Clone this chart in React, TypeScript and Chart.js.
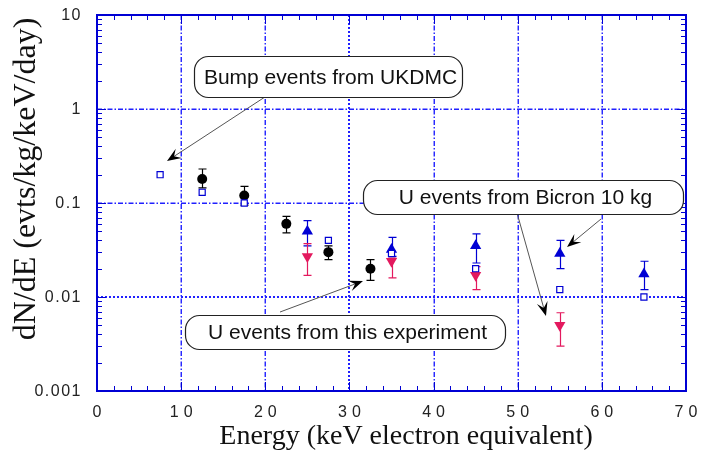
import React, { useEffect, useRef } from 'react';
import { Chart, registerables } from 'chart.js';

Chart.register(...registerables);

const W = 706;
const H = 458;

// ---- axis definitions ----
const xMin = 0;
const xMax = 70;
const xTickValues = [0, 10, 20, 30, 40, 50, 60, 70];
const xTickLabels = ['0', '10', '20', '30', '40', '50', '60', '70'];
const yMin = 0.001;
const yMax = 10;
const yTickValues = [0.001, 0.01, 0.1, 1, 10];
const yTickLabels = ['0.001', '0.01', '0.1', '1', '10'];
const xGrid = [10, 20, 30, 40, 50, 60];
const yGrid = [1, 0.1, 0.01];
const xTitle = 'Energy (keV electron equivalent)';
const yTitle = 'dN/dE (evts/kg/keV/day)';

// ---- data ----
// open squares: bump events (UKDMC)
const bumpX = [7.5, 12.5, 17.5, 27.5, 35, 45, 55, 65];
const bumpY = [0.2, 0.13, 0.1, 0.04, 0.029, 0.02, 0.012, 0.01];

// filled circles
const circX = [12.5, 17.5, 22.5, 27.5, 32.5];
const circY = [0.18, 0.12, 0.06, 0.03, 0.02];
const circLo = [0.145, 0.095, 0.048, 0.025, 0.015];
const circHi = [0.23, 0.15, 0.072, 0.035, 0.025];

// U events from Bicron 10 kg (blue up triangles)
const bicX = [25, 35, 45, 55, 65];
const bicY = [0.05, 0.032, 0.035, 0.029, 0.0176];
const bicLo = [0.035, 0.027, 0.023, 0.02, 0.012];
const bicHi = [0.065, 0.043, 0.047, 0.04, 0.024];

// U events from this experiment (pink down triangles)
const expX = [25, 35, 45, 55];
const expY = [0.027, 0.024, 0.017, 0.005];
const expLo = [0.017, 0.016, 0.012, 0.003];
const expHi = [0.037, 0.026, 0.021, 0.0068];

// ---- annotations (data coordinates) ----
const boxes = [
  { text: 'Bump events from UKDMC', x1: 11.53, x2: 43.38, yTop: 3.66, yBot: 1.342 },
  { text: 'U events from Bicron 10 kg', x1: 31.61, x2: 69.65, yTop: 0.1757, yBot: 0.0763 },
  { text: 'U events from this experiment', x1: 10.46, x2: 48.49, yTop: 0.00644, yBot: 0.0028 },
];
const arrows = [
  { fx: 20.32, fy: 1.409, tx: 8.32, ty: 0.28 },
  { fx: 59.9, fy: 0.0676, tx: 55.86, ty: 0.034 },
  { fx: 49.92, fy: 0.0783, tx: 53.36, ty: 0.00628 },
  { fx: 21.75, fy: 0.00692, tx: 31.61, ty: 0.01479 },
];

const BLUE = '#0000d4';
const GRID_BLUE = '#2020ff';
const PINK = '#e3195e';
const BLACK = '#000000';

const errorSets = [
  { xs: circX, lo: circLo, hi: circHi, color: BLACK },
  { xs: bicX, lo: bicLo, hi: bicHi, color: BLUE },
  { xs: expX, lo: expLo, hi: expHi, color: PINK },
];

const toPts = (xs: number[], ys: number[]) => xs.map((x, i) => ({ x, y: ys[i] }));

const framePlugin = {
  id: 'frame',
  beforeDatasetsDraw(chart: any) {
    const { ctx, chartArea, scales } = chart;
    const { left, right, top, bottom } = chartArea;
    const xs = scales.x;
    const ys = scales.y;
    ctx.save();
    // grid lines
    xGrid.forEach((v) => {
      const strong = v === 30;
      const px = Math.round(xs.getPixelForValue(v)) + (strong ? 0 : 0.25);
      ctx.beginPath();
      ctx.strokeStyle = GRID_BLUE;
      ctx.lineWidth = strong ? 2 : 1.4;
      ctx.setLineDash(strong ? [2, 2] : [5, 2, 1.5, 2]);
      ctx.moveTo(px, top);
      ctx.lineTo(px, bottom);
      ctx.stroke();
    });
    yGrid.forEach((v) => {
      const strong = v === 0.01;
      const py = Math.round(ys.getPixelForValue(v)) + (strong ? 0 : 0.25);
      ctx.beginPath();
      ctx.strokeStyle = GRID_BLUE;
      ctx.lineWidth = strong ? 2 : 1.4;
      ctx.setLineDash(strong ? [2, 2] : [5, 2, 1.5, 2]);
      ctx.moveTo(left, py);
      ctx.lineTo(right, py);
      ctx.stroke();
    });
    ctx.setLineDash([]);
    // ticks
    ctx.strokeStyle = BLUE;
    ctx.lineWidth = 1;
    ctx.beginPath();
    for (let v = xMin; v <= xMax; v += 2) {
      const px = Math.round(xs.getPixelForValue(v)) + 0.5;
      const len = v % 10 === 0 ? 9 : 5;
      ctx.moveTo(px, bottom);
      ctx.lineTo(px, bottom - len);
      ctx.moveTo(px, top);
      ctx.lineTo(px, top + len);
    }
    for (let d = -3; d <= 0; d++) {
      for (let m = 1; m <= 9; m++) {
        const v = m * Math.pow(10, d);
        const py = Math.round(ys.getPixelForValue(v)) + 0.5;
        const len = m === 1 ? 9 : 5;
        ctx.moveTo(left, py);
        ctx.lineTo(left + len, py);
        ctx.moveTo(right, py);
        ctx.lineTo(right - len, py);
      }
    }
    ctx.stroke();
    // frame
    ctx.lineWidth = 2;
    ctx.strokeStyle = BLUE;
    ctx.strokeRect(left, top, right - left, bottom - top);

    // error bars
    errorSets.forEach((s) => {
      ctx.strokeStyle = s.color;
      ctx.lineWidth = 1.2;
      ctx.beginPath();
      s.xs.forEach((xv, i) => {
        const px = Math.round(xs.getPixelForValue(xv)) + 0.5;
        const pLo = ys.getPixelForValue(s.lo[i]);
        const pHi = ys.getPixelForValue(s.hi[i]);
        ctx.moveTo(px, pLo);
        ctx.lineTo(px, pHi);
        ctx.moveTo(px - 4, pLo);
        ctx.lineTo(px + 4, pLo);
        ctx.moveTo(px - 4, pHi);
        ctx.lineTo(px + 4, pHi);
      });
      ctx.stroke();
    });
    ctx.restore();
  },
  afterDatasetsDraw(chart: any) {
    const { ctx, chartArea, scales } = chart;
    const { left, bottom } = chartArea;
    const xs = scales.x;
    const ys = scales.y;
    ctx.save();

    // arrows
    arrows.forEach((a) => {
      const x1 = xs.getPixelForValue(a.fx);
      const y1 = ys.getPixelForValue(a.fy);
      const x2 = xs.getPixelForValue(a.tx);
      const y2 = ys.getPixelForValue(a.ty);
      const ang = Math.atan2(y2 - y1, x2 - x1);
      const L = 14;
      const hw = 5.5;
      ctx.strokeStyle = '#555';
      ctx.lineWidth = 1;
      ctx.beginPath();
      ctx.moveTo(x1, y1);
      ctx.lineTo(x2 - Math.cos(ang) * 8, y2 - Math.sin(ang) * 8);
      ctx.stroke();
      const bx = x2 - Math.cos(ang) * L;
      const by = y2 - Math.sin(ang) * L;
      const nx = -Math.sin(ang);
      const ny = Math.cos(ang);
      const mx = x2 - Math.cos(ang) * L * 0.6;
      const my = y2 - Math.sin(ang) * L * 0.6;
      ctx.fillStyle = '#000';
      ctx.beginPath();
      ctx.moveTo(x2, y2);
      ctx.lineTo(bx + nx * hw, by + ny * hw);
      ctx.lineTo(mx, my);
      ctx.lineTo(bx - nx * hw, by - ny * hw);
      ctx.closePath();
      ctx.fill();
    });

    // boxes
    boxes.forEach((b) => {
      const bx1 = Math.round(xs.getPixelForValue(b.x1)) + 0.5;
      const bx2 = Math.round(xs.getPixelForValue(b.x2)) + 0.5;
      const by1 = Math.round(ys.getPixelForValue(b.yTop)) + 0.5;
      const by2 = Math.round(ys.getPixelForValue(b.yBot)) + 0.5;
      const r = 14;
      ctx.beginPath();
      (ctx as any).roundRect(bx1, by1, bx2 - bx1, by2 - by1, r);
      ctx.fillStyle = '#fff';
      ctx.fill();
      ctx.lineWidth = 1.2;
      ctx.strokeStyle = '#222';
      ctx.stroke();
      ctx.fillStyle = '#111';
      ctx.font = '21px "Liberation Sans", Arial, sans-serif';
      ctx.textAlign = 'center';
      ctx.textBaseline = 'middle';
      ctx.fillText(b.text, (bx1 + bx2) / 2 + 2, (by1 + by2) / 2 + 1);
    });

    // tick labels
    ctx.fillStyle = '#222';
    ctx.font = '16px "Liberation Sans", Arial, sans-serif';
    (ctx as any).letterSpacing = '1.5px';
    ctx.textAlign = 'right';
    ctx.textBaseline = 'middle';
    yTickValues.forEach((v, i) => {
      const py = ys.getPixelForValue(v);
      ctx.fillText(yTickLabels[i], left - 15, py + 1);
    });
    (ctx as any).letterSpacing = '5px';
    ctx.textAlign = 'center';
    xTickValues.forEach((v, i) => {
      const px = xs.getPixelForValue(v);
      ctx.fillText(xTickLabels[i], px + 2.5, bottom + 22);
    });
    (ctx as any).letterSpacing = '0px';

    // axis titles
    ctx.fillStyle = '#111';
    ctx.font = '28px "Liberation Serif", "Times New Roman", serif';
    ctx.textAlign = 'center';
    ctx.textBaseline = 'middle';
    ctx.fillText(xTitle, 406, 437);
    ctx.save();
    ctx.font = '32px "Liberation Serif", "Times New Roman", serif';
    ctx.translate(27, 179);
    ctx.rotate(-Math.PI / 2);
    ctx.fillText(yTitle, 0, 0);
    ctx.restore();

    ctx.restore();
  },
};

export default function App() {
  const ref = useRef<HTMLCanvasElement>(null);
  useEffect(() => {
    if (!ref.current) return;
    const chart = new Chart(ref.current, {
      type: 'scatter',
      data: {
        datasets: [
          {
            label: 'Bump events (UKDMC)',
            data: toPts(bumpX, bumpY),
            pointStyle: 'rect',
            pointRadius: 4.3,
            backgroundColor: '#ffffff',
            borderColor: BLUE,
            borderWidth: 1.2,
          },
          {
            label: 'Data',
            data: toPts(circX, circY),
            pointStyle: 'circle',
            pointRadius: 5,
            backgroundColor: BLACK,
            borderColor: BLACK,
            borderWidth: 0,
          },
          {
            label: 'U events from Bicron 10 kg',
            data: toPts(bicX, bicY),
            pointStyle: 'triangle',
            pointRadius: 6.5,
            backgroundColor: BLUE,
            borderColor: BLUE,
            borderWidth: 0,
          },
          {
            label: 'U events from this experiment',
            data: toPts(expX, expY),
            pointStyle: 'triangle',
            rotation: 180,
            pointRadius: 6.5,
            backgroundColor: PINK,
            borderColor: PINK,
            borderWidth: 0,
          } as any,
        ],
      },
      options: {
        animation: false,
        responsive: false,
        devicePixelRatio: 1,
        events: [],
        layout: { padding: { left: 97, right: 20, top: 15, bottom: 67 } },
        plugins: { legend: { display: false }, tooltip: { enabled: false } },
        scales: {
          x: { type: 'linear', min: xMin, max: xMax, display: false },
          y: { type: 'logarithmic', min: yMin, max: yMax, display: false },
        },
      },
      plugins: [framePlugin],
    });
    return () => chart.destroy();
  }, []);
  return (
    <div style={{ position: 'fixed', left: 0, top: 0, width: W, height: H, background: '#fff' }}>
      <canvas ref={ref} width={W} height={H} style={{ width: W, height: H, display: 'block' }} />
    </div>
  );
}
